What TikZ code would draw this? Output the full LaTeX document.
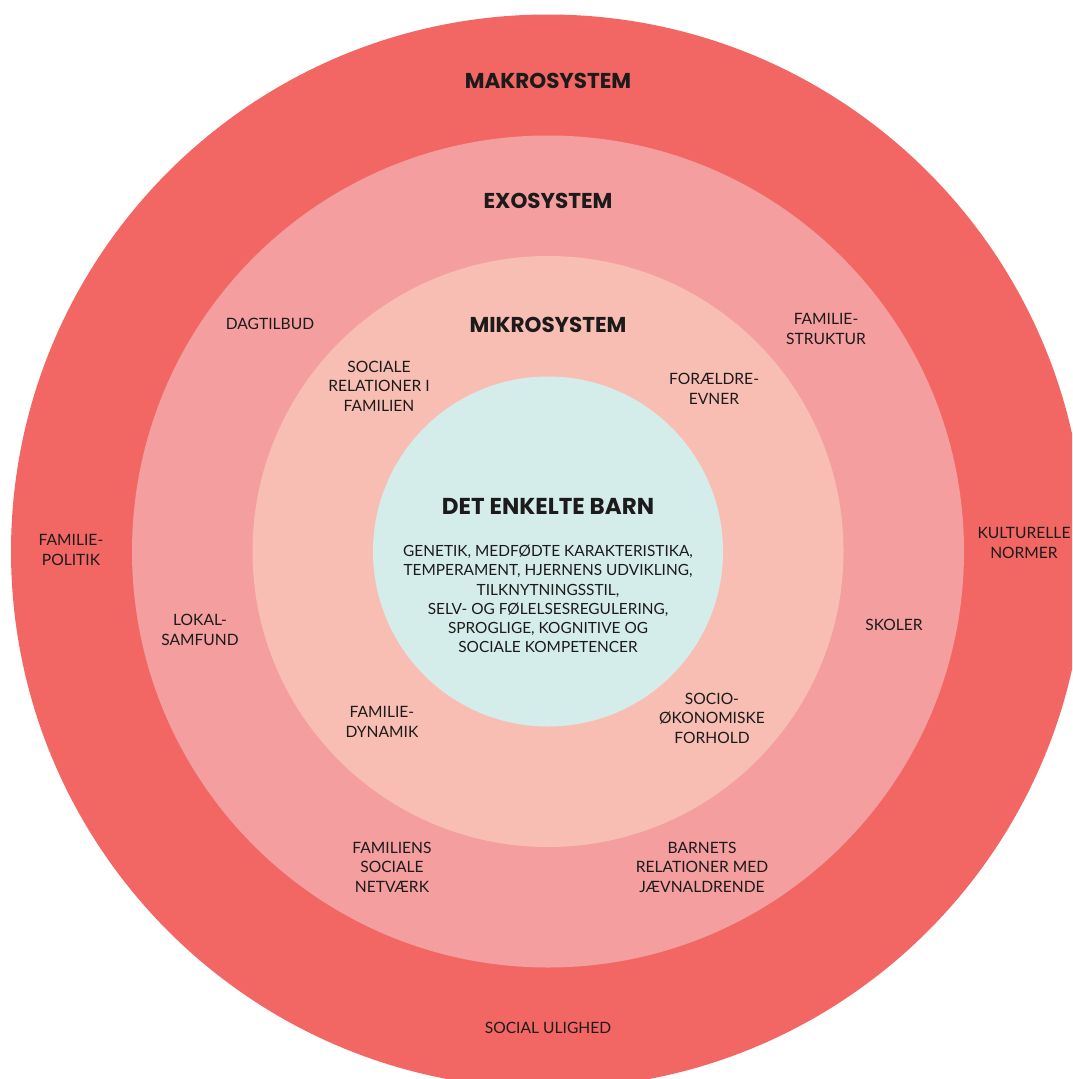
\documentclass[tikz,border=0pt]{standalone}
\usepackage{fontspec}
\setmainfont{Lato}
\newfontfamily\headfont{Poppins}
\usetikzlibrary{positioning}
\definecolor{makrocol}{HTML}{F26764}
\definecolor{exocol}{HTML}{F49E9F}
\definecolor{mikrocol}{HTML}{F8BEB4}
\definecolor{barncol}{HTML}{D4EDEA}
\definecolor{inkcol}{HTML}{1C1A1A}
\tikzset{
  ring/.style={circle,inner sep=0pt,draw=none},
  head/.style={text=inkcol,font=\headfont\bfseries\fontsize{21.5}{25}\selectfont},
  factor/.style={text=inkcol,align=center,inner sep=0pt,font=\fontsize{15.6}{19.5}\selectfont}
}
\begin{document}
\begin{tikzpicture}[x=1pt,y=-1pt]
  \useasboundingbox (0,0) rectangle (1072,1079);
  \clip (0,0) rectangle (1072,1079);
  \node[ring,fill=makrocol,minimum size=1074pt] (makro) at (548,551.5) {};
  \node[ring,fill=exocol,minimum size=832pt] (exo) at (makro.center) {};
  \node[ring,fill=mikrocol,minimum size=591pt] (mikro) at (makro.center) {};
  \node[ring,fill=barncol,minimum size=350pt] (barn) at (makro.center) {};
  % overskrifter
  \node[head] (makro_t) at (548,81) {MAKROSYSTEM};
  \node[head] (exo_t) at (548,201) {EXOSYSTEM};
  \node[head] (mikro_t) at (548,325) {MIKROSYSTEM};
  \node[head,font=\headfont\bfseries\fontsize{23}{26}\selectfont] (barn_t) at (548,506) {DET ENKELTE BARN};
  \node[factor,font=\fontsize{15.4}{19.3}\selectfont] (barn_f) at (548,599)
    {GENETIK, MEDFØDTE KARAKTERISTIKA,\\TEMPERAMENT, HJERNENS UDVIKLING,\\TILKNYTNINGSSTIL,\\SELV- OG FØLELSESREGULERING,\\SPROGLIGE, KOGNITIVE OG\\SOCIALE KOMPETENCER};
  % mikrosystem
  \node[factor] (soc_rel) at (379,386) {SOCIALE\\RELATIONER I\\FAMILIEN};
  \node[factor] (foraeldre) at (714,389) {FORÆLDRE-\\EVNER};
  \node[factor] (dynamik) at (382,722) {FAMILIE-\\DYNAMIK};
  \node[factor] (socio) at (712,718) {SOCIO-\\ØKONOMISKE\\FORHOLD};
  % exosystem
  \node[factor] (dagtilbud) at (270,324) {DAGTILBUD};
  \node[factor] (struktur) at (826,329) {FAMILIE-\\STRUKTUR};
  \node[factor] (lokal) at (200,630) {LOKAL-\\SAMFUND};
  \node[factor] (skoler) at (894,625) {SKOLER};
  \node[factor] (netvaerk) at (392,867) {FAMILIENS\\SOCIALE\\NETVÆRK};
  \node[factor] (jaevn) at (702,867) {BARNETS\\RELATIONER MED\\JÆVNALDRENDE};
  % makrosystem
  \node[factor] (politik) at (71,550) {FAMILIE-\\POLITIK};
  \node[factor] (normer) at (1024,543) {KULTURELLE\\NORMER};
  \node[factor] (ulighed) at (548,1028) {SOCIAL ULIGHED};
\end{tikzpicture}
\end{document}
